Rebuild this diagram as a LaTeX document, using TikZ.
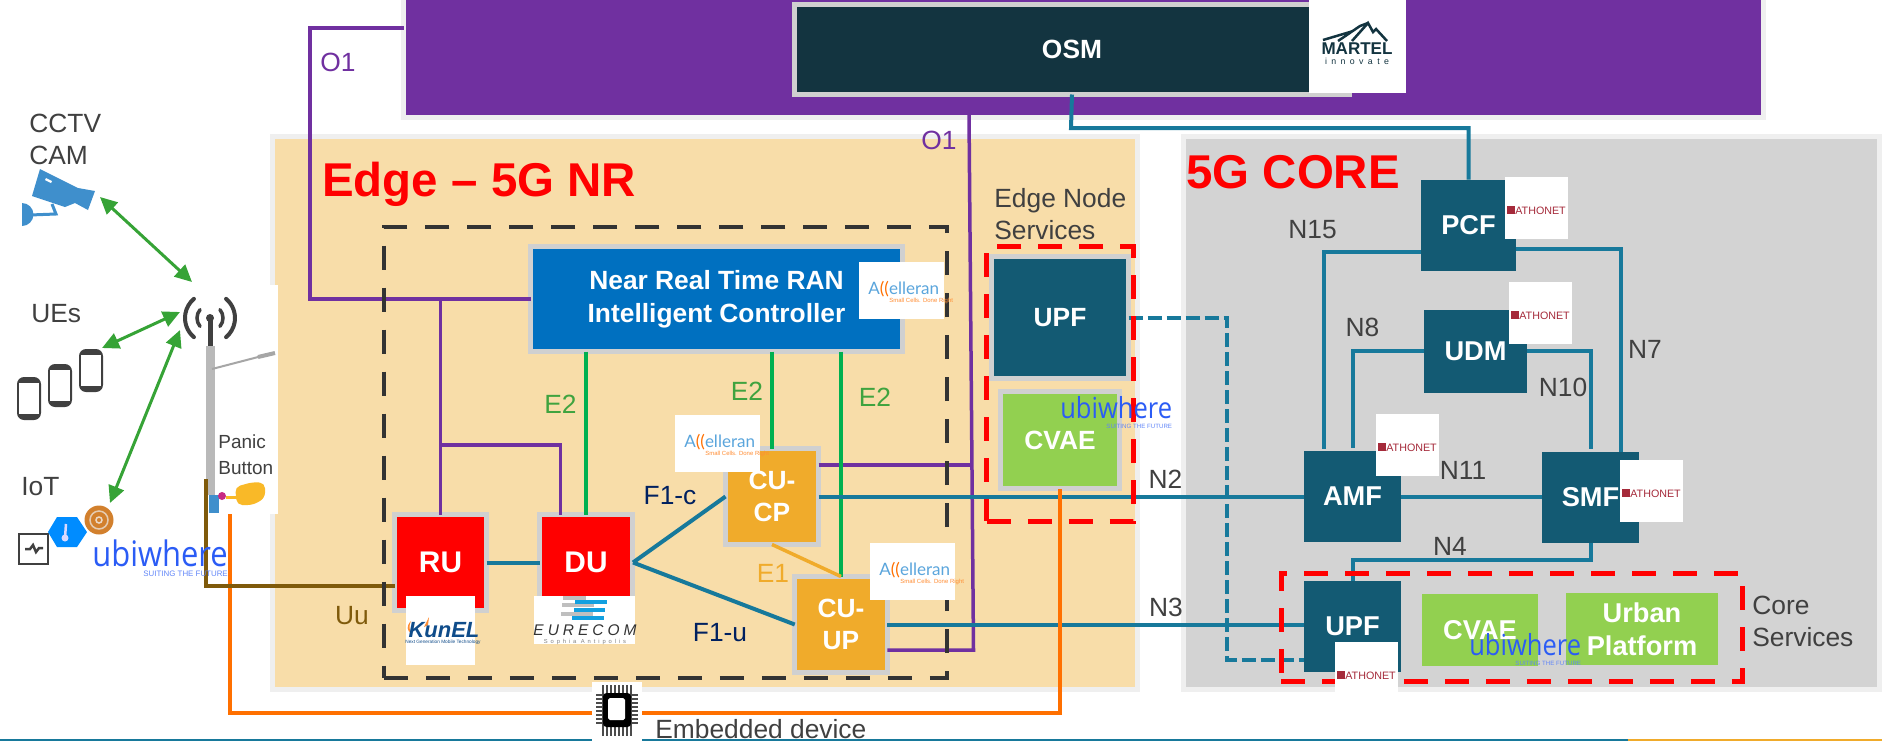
\documentclass[tikz,border=0pt]{standalone}
\usepackage{fontspec}
\setmainfont{Liberation Sans}
\newfontfamily\logofont{Lato}
\newfontfamily\ubifont{Open Sans}
\newfontfamily\wideA[LetterSpace=26]{Liberation Sans}
\newfontfamily\wideB[LetterSpace=50]{Liberation Sans}
\usetikzlibrary{arrows.meta,calc}

\definecolor{linkteal}{HTML}{17799B}
\definecolor{nfteal}{HTML}{135A73}
\definecolor{osmdark}{HTML}{133440}
\definecolor{bannerpurple}{HTML}{7030A0}
\definecolor{edgewheat}{HTML}{F8DDA9}
\definecolor{coregrey}{HTML}{D3D3D3}
\definecolor{panelrim}{HTML}{EFEFEF}
\definecolor{boxrim}{HTML}{D0D0D0}
\definecolor{e2green}{HTML}{00B050}
\definecolor{e2text}{HTML}{3FA33F}
\definecolor{cuorange}{HTML}{F0AB2B}
\definecolor{cvaegreen}{HTML}{92D050}
\definecolor{busorange}{HTML}{FF7000}
\definecolor{uubrown}{HTML}{7F5A0B}
\definecolor{arrowgreen}{HTML}{36A336}
\definecolor{labelgrey}{HTML}{404040}
\definecolor{f1navy}{HTML}{002060}
\definecolor{ranblue}{HTML}{0070C0}
\definecolor{ubiblue}{HTML}{2B5CF5}
\definecolor{accblue}{HTML}{5AA5DC}
\definecolor{athred}{HTML}{A52A3A}
\definecolor{camblue}{HTML}{3F8FCC}
\definecolor{kunblue}{HTML}{0F4C8A}
\definecolor{eurblue}{HTML}{12A0E0}
\definecolor{panicyellow}{HTML}{F9B928}

\tikzset{
	wh/.style 2 args={minimum width=#1*0.02cm, minimum height=#2*0.02cm, inner sep=0pt, outer sep=0pt},
	panel/.style={draw=panelrim, line width=0.1cm},
	rimbox/.style={draw=boxrim, line width=0.1cm, text=white, align=center, font=\fontsize{15}{18.6}\selectfont\bfseries},
	nfbox/.style={fill=nfteal, text=white, align=center, font=\fontsize{15.5}{18.8}\selectfont\bfseries},
	label/.style={text=labelgrey, inner sep=0pt, align=left, font=\fontsize{15}{18.2}\selectfont},
	link/.style={linkteal, line width=0.08cm},
	o1link/.style={bannerpurple, line width=0.07cm},
	e2link/.style={e2green, line width=0.07cm},
	reddash/.style={draw=red, line width=0.1cm, dash pattern=on 0.48cm off 0.34cm},
	logobg/.style={fill=white, inner sep=0pt, outer sep=0pt},
	wave/.style={arrowgreen, line width=0.06cm, {Triangle[length=0.34cm,width=0.32cm]}-{Triangle[length=0.34cm,width=0.32cm]}}
}

\begin{document}
\begin{tikzpicture}[x=0.02cm,y=-0.02cm]
	\newcommand{\AthonetLogo}[4]{
		\node (#1) [logobg, wh={63}{#4}, anchor=north west] at (#2,#3) {};
		\fill [athred] ($(#1.north west)+(2,29)$) rectangle ++(8,8);
		\node (#1txt) [text=athred, inner sep=0pt, anchor=west, font=\fontsize{6.1}{7}\selectfont] at ($(#1.north west)+(10,33.5)$) {ATHONET};
	}
	\newcommand{\AccelleranLogo}[3]{
		\node (#1) [logobg, wh={85}{57}, anchor=north west] at (#2,#3) {};
		\node (#1txt) [text=accblue, inner sep=0pt, anchor=west, font=\logofont\fontsize{9.7}{10}\selectfont] at ($(#1.north west)+(9,27)$) {A\textcolor{busorange}{((}elleran};
		\node (#1tag) [text=busorange!80, inner sep=0pt, anchor=west, font=\fontsize{3.4}{4}\selectfont] at ($(#1.north west)+(30,39)$) {Small Cells. Done Right};
	}
	\newcommand{\UbiwhereLogo}[5]{
		\node (#1) [text=ubiblue, inner sep=0pt, anchor=west, xscale=0.88, transform shape, font=\ubifont\fontsize{#4}{#4}\selectfont] at (#2,#3) {ubiwhere};
		\node (#1tag) [text=ubiblue!75, inner sep=0pt, anchor=north east, font=\fontsize{#5}{6}\selectfont] at ($(#1.south east)+(0,4)$) {SUITING THE FUTURE};
	}
	\useasboundingbox (0,0) rectangle (1882,741);

	% panels
	\node (edgepanel) [panel, fill=edgewheat, wh={865}{553}] at (705,413) {};
	\node (corepanel) [panel, fill=coregrey, wh={696}{553}] at (1531.5,413) {};
	\node (banner) [panel, fill=bannerpurple, wh={1360}{127.5}] at (1083.5,53.75) {};
	\node (edgetitle) [text=red, inner sep=0pt, anchor=west, font=\fontsize{27}{30}\selectfont\bfseries] at (322,184) {Edge – 5G NR};
	\node (coretitle) [text=red, inner sep=0pt, anchor=west, font=\fontsize{27}{30}\selectfont\bfseries] at (1186,172.5) {5G CORE};

	% bottom rule
	\coordinate (ruleleft) at (0,740);
	\coordinate (rulemid) at (1628,740);
	\coordinate (ruleright) at (1882,740);
	\draw [linkteal, line width=0.05cm] (ruleleft) -- (rulemid);
	\draw [cuorange, line width=0.05cm] (rulemid) -- (ruleright);

	% nodes of the edge
	\node (nearrt) [rimbox, fill=ranblue, wh={372}{105}] at (716.5,299) {Near Real Time RAN\\Intelligent Controller};
	\node (ru) [rimbox, fill=red, wh={92}{96}, font=\fontsize{17}{20}\selectfont\bfseries] at (440.5,562.5) {RU};
	\node (du) [rimbox, fill=red, wh={93}{96}, font=\fontsize{17}{20}\selectfont\bfseries] at (586,562.5) {DU};
	\node (cucp) [rimbox, fill=cuorange, wh={93}{96}] at (772,496.5) {CU-\\CP};
	\node (cuup) [rimbox, fill=cuorange, wh={92.5}{96}] at (841,624.5) {CU-\\UP};
	\node (upfedge) [rimbox, fill=nfteal, wh={137}{121.5}] at (1060,317.5) {UPF};
	\node (cvaeedge) [rimbox, fill=cvaegreen, wh={119}{97}] at (1060,440) {CVAE};

	% nodes of the core
	\node (osm) [rimbox, fill=osmdark, wh={555}{90}] at (1072,49.5) {OSM};
	\node (pcf) [nfbox, wh={95}{91}] at (1468.5,225) {PCF};
	\node (udm) [nfbox, wh={103}{83}] at (1475.5,351) {UDM};
	\node (amf) [nfbox, wh={97}{91}] at (1352.5,496.5) {AMF};
	\node (smf) [nfbox, wh={97}{91}] at (1590.5,497.5) {SMF};
	\node (upfcore) [nfbox, wh={97}{91}] at (1352.5,626.5) {UPF};
	\node (cvaecore) [nfbox, fill=cvaegreen, wh={116}{72}] at (1480,630) {CVAE};
	\node (urban) [nfbox, fill=cvaegreen, wh={152}{72}] at (1642,629) {Urban\\Platform};

	% O1
	\coordinate (o1top) at (310,28);
	\coordinate (dutap) at (440.5,445);
	\coordinate (o1from) at (969,115);
	\coordinate (o1low) at (973.5,650);
	\coordinate (o1mid) at (971,465);
	\draw [o1link] (banner.west |- o1top) -- (o1top) |- (nearrt.west);
	\draw [o1link] (ru.north |- nearrt.west) -- (ru.north);
	\draw [o1link] (dutap) -| ($(du.north)+(-25.5,0)$);
	\draw [o1link] (o1from) -- (o1low) -- (cuup.east |- o1low);
	\draw [o1link] (cucp.east |- o1mid) -- (o1mid);

	% E2, E1
	\draw [e2link] (nearrt.south -| du.north) -- (du.north);
	\draw [e2link] (nearrt.south -| cucp.north) -- (cucp.north);
	\draw [e2link] (nearrt.south -| cuup.north) -- (cuup.north);
	\draw [cuorange, line width=0.07cm] (cucp.south) -- (cuup.north);

	% links
	\coordinate (osmbend) at (1071,128);
	\coordinate (f1fork) at (633,562.5);
	\coordinate (dashtop) at (1226.5,317.5);
	\coordinate (dashbot) at (1226.5,660);
	\coordinate (n4bend) at (1590.5,559.5);
	\draw [link] (ru.east) -- (du.west);
	\draw [link] (f1fork) -- (cucp.west);
	\draw [link] (f1fork) -- (cuup.west);
	\draw [link] (cucp.east) -- (amf.west);
	\draw [link] (cuup.east) -- (upfcore.west |- cuup.east);
	\draw [link] (osm.south) -- (osmbend) -| (pcf.north);
	\draw [link] ($(pcf.west)+(0,27)$) -| ($(amf.north)+(-28.5,-2)$);
	\draw [link] (udm.west) -| ($(amf.north)+(0,-3)$);
	\draw [link] ($(pcf.east)+(0,24)$) -| ($(smf.north)+(30.5,0)$);
	\draw [link] (udm.east) -| ($(smf.north)+(0,-3)$);
	\draw [link] (amf.east) -- (smf.west |- amf.east);
	\draw [link] (smf.south) -- (n4bend) -| (upfcore.north);
	\draw [link, dashed, dash pattern=on 0.28cm off 0.1cm] (upfedge.east) -- (dashtop) -- (dashbot) -- (upfcore.west |- dashbot);

	% Uu and the embedded device
	\coordinate (panicfoot) at (230,513);
	\coordinate (busbend) at (230,713);
	\coordinate (uutop) at (206,479);
	\coordinate (uubend) at (206,586);
	\draw [busorange, line width=0.07cm] (panicfoot) -- (busbend) -| (cvaeedge.south);

	% street light and antenna
	\node (lamp) [logobg, wh={98}{229}] at (229,399.5) {};
	\coordinate (antenna) at (210,318);
	\draw [gray!55, line width=0.18cm] (210,346) -- (210,495);
	\draw [gray!70, line width=0.04cm] (212,369) -- (262,356);
	\draw [gray!70, line width=0.08cm] (258,357) -- (275,353);
	\draw [labelgrey, line width=0.1cm] (antenna) -- (210,346);
	\fill [labelgrey] (antenna) circle (4);
	\draw [labelgrey, line width=0.08cm, line cap=round] ($(antenna)+(130:25)$) arc (130:230:25);
	\draw [labelgrey, line width=0.08cm, line cap=round] ($(antenna)+(-50:25)$) arc (-50:50:25);
	\draw [labelgrey, line width=0.07cm, line cap=round] ($(antenna)+(140:13)$) arc (140:220:13);
	\draw [labelgrey, line width=0.07cm, line cap=round] ($(antenna)+(-40:13)$) arc (-40:40:13);
	\draw [camblue, line width=0.2cm] (214,495) -- (214,513);
	\draw [panicyellow, line width=0.06cm] (226,497) -- (240,497);
	\fill [panicyellow, rounded corners=3] (235,487) -- (253,482) -- (265,483) -- (265,498) -- (253,505) -- (237,505) -- cycle;
	\fill [magenta!80!black] (222,496) circle (4);
	\node (panic) [label, anchor=west, font=\fontsize{10.8}{14.8}\selectfont] at (218,455) {Panic\\Button};
	\draw [uubrown, line width=0.07cm] (uutop) -- (uubend) -- (uubend -| ru.west);

	% CCTV
	\fill [camblue] (40,169) -- (78,188) -- (95,191) -- (88,210) -- (75,203) -- (65,207) -- (32,196) -- cycle;
	\fill [white] (46,178) -- (52,181) -- (51,183) -- (45,180) -- cycle;
	\fill [camblue] (22,226) arc (90:-90:11.5) -- cycle;
	\draw [camblue, line width=0.06cm] (30,215) -- (56,214) -- (52,204);

	% UEs
	\foreach \n/\ux/\uy in {1/29/398.5,2/60/385.5,3/91/370.5}{
		\node (phone\n) [fill=labelgrey, rounded corners=4, wh={24}{43}] at (\ux,\uy) {};
		\node (screen\n) [fill=white, wh={20}{31}] at (\ux,\uy) {};
	}

	% IoT
	\coordinate (tempcentre) at (65,538);
	\draw [labelgrey, line width=0.04cm] (19,534) rectangle (48,564);
	\draw [labelgrey, line width=0.05cm] (25,549) -- (30,549) -- (33,545) -- (36,552) -- (39,548) -- (43,548);
	\fill [blue!45!cyan] (48,532) -- (57,517) -- (77,517) -- (87,532) -- (77,547) -- (57,547) -- cycle;
	\draw [white!85!blue, line width=0.05cm] (66,524) -- (tempcentre);
	\fill [white!85!blue] (tempcentre) circle (3.5);
	\fill [brown!70!orange] (99,520) circle (14.5);
	\draw [white!60!brown, line width=0.03cm] (99,520) circle (9);
	\draw [white!70!brown, line width=0.03cm] (99,520) circle (3);

	% arrows to the antenna
	\coordinate (camtip) at (100,197);
	\coordinate (camend) at (192,282);
	\coordinate (uetip) at (102,348);
	\coordinate (ueend) at (180,312);
	\coordinate (iottip) at (110,503);
	\coordinate (iotend) at (180,330);
	\draw [wave] (camtip) -- (camend);
	\draw [wave] (uetip) -- (ueend);
	\draw [wave] (iottip) -- (iotend);

	% chip
	\node (chip) [logobg, wh={50}{59}] at (617,711.5) {};
	\foreach \p in {0,1,...,7}{
		\draw [black!70, line width=0.035cm] (603+\p*4,685) -- (603+\p*4,736);
		\draw [black!70, line width=0.035cm] (596,695+\p*4) -- (638,695+\p*4);
	}
	\fill [black, rounded corners=2] (603,693) rectangle (631,727);
	\fill [white, rounded corners=1] (608,698) rectangle (625,720);

	% dashed groups
	\node (oran) [draw=labelgrey!80!black, line width=0.08cm, dash pattern=on 0.48cm off 0.36cm, wh={563}{451}] at (665.5,452.5) {};
	\node (edgesvc) [reddash, wh={146.5}{274.5}] at (1060,384) {};
	\node (coresvc) [reddash, wh={461}{108.6}] at (1511.5,627.3) {};

	% labels
	\node (cctvlabel) [label, anchor=west] at (29,139) {CCTV\\CAM};
	\node (uelabel) [label, anchor=west] at (31,314) {UEs};
	\node (iotlabel) [label, anchor=west] at (21,487) {IoT};
	\node (embedlabel) [label, anchor=west] at (655,729) {Embedded device};
	\node (edgesvclabel) [label, anchor=west] at (994,214) {Edge Node\\Services};
	\node (coresvclabel) [label, anchor=west] at (1752,621) {Core\\Services};
	\node (o1a) [label, text=bannerpurple] at (338,62) {O1};
	\node (o1b) [label, text=bannerpurple] at (939,140) {O1};
	\node (e2a) [label, text=e2text] at (560.5,404) {E2};
	\node (e2b) [label, text=e2text] at (747,391) {E2};
	\node (e2c) [label, text=e2text] at (875,397) {E2};
	\node (e1) [label, text=cuorange] at (773,573) {E1};
	\node (f1c) [label, text=f1navy] at (670,496) {F1-c};
	\node (f1u) [label, text=f1navy] at (720,633) {F1-u};
	\node (uu) [label, text=uubrown] at (352,616) {Uu};
	\node (n2) [label] at (1165.5,479) {N2};
	\node (n3) [label] at (1166,607) {N3};
	\node (n4) [label] at (1450,546.5) {N4};
	\node (n7) [label] at (1645,349) {N7};
	\node (n8) [label] at (1362.5,327) {N8};
	\node (n10) [label] at (1563,387) {N10};
	\node (n11) [label] at (1463,470) {N11};
	\node (n15) [label] at (1312.5,230) {N15};

	% logos
	\AccelleranLogo{accran}{859}{262}
	\AccelleranLogo{acccp}{675}{415}
	\AccelleranLogo{accup}{870}{543}
	\AthonetLogo{athpcf}{1505}{177}{62}
	\AthonetLogo{athudm}{1509}{282}{62}
	\AthonetLogo{athamf}{1376}{414}{62}
	\AthonetLogo{athsmf}{1620}{460}{62}
	\AthonetLogo{athupf}{1335}{642}{50}
	\UbiwhereLogo{ubiiot}{92}{553}{20}{4.5}
	\UbiwhereLogo{ubicvae}{1060}{408}{16.5}{3.5}
	\UbiwhereLogo{ubicore}{1469}{645}{16.5}{3.5}

	\node (kunbg) [logobg, wh={69}{69}, anchor=north west] at (406,596) {};
	\fill [busorange!80] (411,621) .. controls (406,626) and (407,631) .. (411,633) .. controls (409,629) and (409,625) .. (411,621) -- cycle;
	\fill [busorange!80] (424,627) -- (429,617) -- (428,625) -- cycle;
	\node (kuntxt) [text=kunblue, inner sep=0pt, font=\fontsize{12.5}{14}\selectfont\bfseries\itshape] at (444,630) {KunEL};
	\node (kuntag) [text=kunblue, inner sep=0pt, font=\fontsize{2.7}{3}\selectfont] at (443,642) {Next Generation Mobile Technology};

	\node (eurbg) [logobg, wh={101}{48}, anchor=north west] at (534,596) {};
	\foreach \ga/\gb/\gy in {563/586/596,562/594/603,561/593/612}{
		\fill [gray!50] (\ga,\gy) rectangle (\gb,\gy+4);
	}
	\foreach \ba/\bb/\by in {575/607/600,574/605/608,572/604/616}{
		\fill [eurblue] (\ba,\by) rectangle (\bb,\by+4);
	}
	\node (eurtxt) [text=black!80, inner sep=0pt, font=\wideA\fontsize{8.8}{10}\selectfont\itshape] at (585,630) {EURECOM};
	\node (eurtag) [text=gray, inner sep=0pt, font=\wideB\fontsize{3.3}{4}\selectfont] at (585,642) {Sophia Antipolis};

	\node (martelbg) [logobg, wh={97}{93}, anchor=north west] at (1309,0) {};
	\draw [osmdark, line width=0.05cm] (1323,40) -- (1350,32) -- (1345,36);
	\draw [osmdark, line width=0.05cm] (1338,41) -- (1360,26) -- (1368,23);
	\draw [osmdark, line width=0.05cm] (1352,41) -- (1368,23) -- (1373,32) -- (1376,29) -- (1387,41);
	\node (marteltxt) [text=osmdark, inner sep=0pt, font=\fontsize{9.7}{11}\selectfont\bfseries] at (1357,49) {MARTEL};
	\node (marteltag) [text=osmdark, inner sep=0pt, font=\wideB\fontsize{5}{6}\selectfont] at (1357,61) {innovate};
\end{tikzpicture}
\end{document}
